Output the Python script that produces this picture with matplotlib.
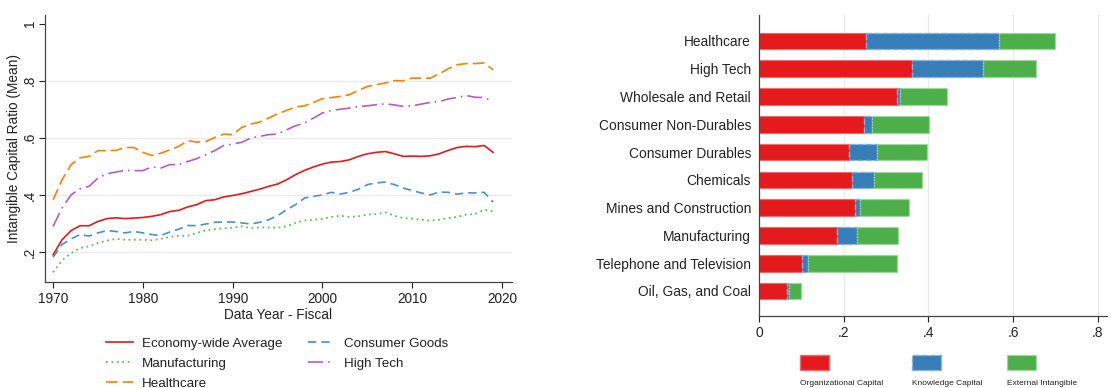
import matplotlib
matplotlib.use("Agg")
import matplotlib.pyplot as plt
from matplotlib.patches import Rectangle

plt.rcParams['font.family'] = ['Liberation Sans', 'DejaVu Sans']

# ---- time series: mean intangible capital ratio by group ----
years = list(range(1970, 2020))

economy = [0.190, 0.243, 0.275, 0.292, 0.292, 0.307, 0.317, 0.320, 0.317, 0.319,
           0.321, 0.325, 0.331, 0.342, 0.346, 0.358, 0.366, 0.380, 0.383, 0.393,
           0.398, 0.404, 0.412, 0.420, 0.430, 0.438, 0.453, 0.471, 0.486, 0.498,
           0.508, 0.515, 0.517, 0.523, 0.535, 0.544, 0.549, 0.552, 0.544, 0.535,
           0.536, 0.535, 0.537, 0.544, 0.556, 0.566, 0.570, 0.569, 0.573, 0.549]

consumer = [0.182, 0.226, 0.246, 0.261, 0.256, 0.267, 0.275, 0.272, 0.267, 0.272,
            0.267, 0.261, 0.258, 0.270, 0.280, 0.293, 0.292, 0.298, 0.304, 0.305,
            0.305, 0.302, 0.298, 0.304, 0.313, 0.327, 0.348, 0.366, 0.389, 0.395,
            0.400, 0.409, 0.403, 0.409, 0.420, 0.436, 0.442, 0.445, 0.436, 0.424,
            0.415, 0.407, 0.400, 0.410, 0.409, 0.403, 0.407, 0.407, 0.409, 0.375]

manuf = [0.129, 0.171, 0.196, 0.214, 0.220, 0.232, 0.240, 0.246, 0.243, 0.243,
         0.243, 0.241, 0.246, 0.253, 0.257, 0.257, 0.267, 0.276, 0.280, 0.283,
         0.285, 0.290, 0.284, 0.286, 0.286, 0.285, 0.290, 0.302, 0.311, 0.313,
         0.316, 0.323, 0.327, 0.323, 0.325, 0.331, 0.333, 0.339, 0.327, 0.319,
         0.317, 0.313, 0.310, 0.313, 0.319, 0.323, 0.331, 0.333, 0.348, 0.342]

hightech = [0.290, 0.354, 0.400, 0.422, 0.430, 0.459, 0.474, 0.480, 0.486, 0.485,
            0.485, 0.498, 0.494, 0.506, 0.506, 0.517, 0.527, 0.541, 0.555, 0.573,
            0.578, 0.584, 0.599, 0.605, 0.611, 0.613, 0.628, 0.642, 0.652, 0.669,
            0.687, 0.696, 0.700, 0.704, 0.710, 0.712, 0.716, 0.719, 0.715, 0.710,
            0.712, 0.718, 0.724, 0.727, 0.736, 0.741, 0.748, 0.742, 0.741, 0.727]

health = [0.383, 0.453, 0.506, 0.530, 0.535, 0.555, 0.555, 0.556, 0.566, 0.566,
          0.549, 0.538, 0.546, 0.558, 0.570, 0.590, 0.585, 0.587, 0.601, 0.613,
          0.611, 0.636, 0.648, 0.655, 0.669, 0.684, 0.696, 0.708, 0.712, 0.724,
          0.737, 0.741, 0.745, 0.751, 0.766, 0.780, 0.786, 0.792, 0.800, 0.800,
          0.809, 0.809, 0.809, 0.824, 0.842, 0.856, 0.860, 0.860, 0.862, 0.838]

# ---- stacked bars: components of intangible capital by industry ----
industries = ['Healthcare', 'High Tech', 'Wholesale and Retail', 'Consumer Non-Durables',
              'Consumer Durables', 'Chemicals', 'Mines and Construction', 'Manufacturing',
              'Telephone and Television', 'Oil, Gas, and Coal']
org_cap = [0.252, 0.361, 0.325, 0.247, 0.212, 0.219, 0.226, 0.184, 0.101, 0.065]
know_cap = [0.315, 0.167, 0.008, 0.020, 0.067, 0.052, 0.011, 0.047, 0.015, 0.005]
ext_int = [0.131, 0.125, 0.110, 0.135, 0.117, 0.114, 0.116, 0.098, 0.210, 0.028]
bar_labels = ['Organizational Capital', 'Knowledge Capital', 'External Intangible']

RED, BLUE, GREEN = '#e41a1c', '#377eb8', '#4daf4a'
ORANGE, PURPLE = '#ff7f00', '#b15ec4'
TXT = '#222222'
GRID = '#ebebeb'

fig = plt.figure(figsize=(11.11, 3.88), dpi=100)

# left panel
ax1 = fig.add_axes([0.0405, 0.2732, 0.4203, 0.6881])
ax1.plot(years, economy, color=RED, lw=1.2, ls='-', label='Economy-wide Average')
ax1.plot(years, manuf, color='#5cc25a', lw=1.3, ls=(0, (1, 2)), label='Manufacturing')
ax1.plot(years, health, color=ORANGE, lw=1.2, ls=(0, (7, 3)), label='Healthcare')
ax1.plot(years, consumer, color='#4a8fd0', lw=1.2, ls=(0, (5, 3)), label='Consumer Goods')
ax1.plot(years, hightech, color=PURPLE, lw=1.2, ls=(0, (9, 3, 1, 3)), label='High Tech')

ax1.set_xlim(1969.1, 2021.1)
ax1.set_ylim(0.095, 1.03)
ax1.set_xticks([1970, 1980, 1990, 2000, 2010, 2020])
ax1.set_yticks([0.2, 0.4, 0.6, 0.8, 1.0])
ax1.set_yticklabels(['.2', '.4', '.6', '.8', '1'], rotation=90, va='center')
for v in [0.2, 0.4, 0.6, 0.8]:
    ax1.axhline(v, color=GRID, lw=1, zorder=0)
ax1.set_xlabel('Data Year - Fiscal', fontsize=9.8, color=TXT, labelpad=1)
ax1.set_ylabel('Intangible Capital Ratio (Mean)', fontsize=9.8, color=TXT, labelpad=1)
ax1.tick_params(labelsize=9.8, colors=TXT, length=4, width=0.8)
ax1.tick_params(axis='y', pad=2)
for s in ['top', 'right']:
    ax1.spines[s].set_visible(False)
for s in ['left', 'bottom']:
    ax1.spines[s].set_color('#444444')
    ax1.spines[s].set_linewidth(0.9)

handles, labels = ax1.get_legend_handles_labels()
fig.legend(handles, labels, loc='upper left', bbox_to_anchor=(0.0895, 0.148),
           ncol=2, frameon=False, fontsize=9.6, handlelength=2.0,
           handletextpad=0.7, columnspacing=1.9, labelspacing=0.58, borderpad=0,
           labelcolor=TXT)

# right panel
ax2 = fig.add_axes([0.6834, 0.1856, 0.313, 0.7757])
pos = list(range(len(industries)))
left2 = [a + b for a, b in zip(org_cap, know_cap)]
ax2.barh(pos, org_cap, height=0.6, color=RED, edgecolor='#f06a6b', lw=0.8, zorder=2)
ax2.barh(pos, know_cap, left=org_cap, height=0.6, color=BLUE, edgecolor='#7fb1e0',
         lw=1.0, ls=(0, (4, 2)), zorder=2)
ax2.barh(pos, ext_int, left=left2, height=0.6, color=GREEN, edgecolor='#9ad897',
         lw=1.0, ls=(0, (1, 1)), zorder=2)
ax2.set_yticks(pos)
ax2.set_yticklabels(industries)
ax2.set_ylim(9.9, -0.935)
ax2.set_xlim(0, 0.822)
ax2.set_xticks([0, 0.2, 0.4, 0.6, 0.8])
ax2.set_xticklabels(['0', '.2', '.4', '.6', '.8'])
for v in [0.2, 0.4, 0.6, 0.8]:
    ax2.axvline(v, color=GRID, lw=1, zorder=0)
ax2.tick_params(axis='y', length=0, pad=6, labelsize=9.9, colors=TXT)
ax2.tick_params(axis='x', length=4, width=0.8, labelsize=9.9, colors=TXT)
for s in ['top', 'right']:
    ax2.spines[s].set_visible(False)
for s in ['left', 'bottom']:
    ax2.spines[s].set_color('#444444')
    ax2.spines[s].set_linewidth(0.9)

# legend for the bars: swatch with its label underneath
W, H = 1111.0, 388.0
swatches = [(800, RED, '#f06a6b', '-'), (912, BLUE, '#7fb1e0', (0, (4, 2))),
            (1007, GREEN, '#9ad897', (0, (1, 1)))]
for (x0, fc, ec, ls), lab in zip(swatches, bar_labels):
    fig.add_artist(Rectangle((x0 / W, (H - 370) / H), 29 / W, 15 / H,
                             transform=fig.transFigure, facecolor=fc,
                             edgecolor=ec, lw=1.0, ls=ls))
    fig.text(x0 / W, (H - 380) / H, lab, fontsize=6, color=TXT, ha='left', va='top')

fig.savefig('out.png', dpi=100)
